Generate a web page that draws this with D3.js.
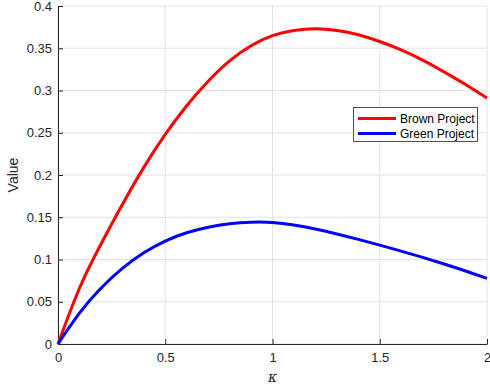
<!DOCTYPE html>
<html><head><meta charset="utf-8">
<script src="https://cdn.jsdelivr.net/npm/d3@7"></script>
<style>body{margin:0;background:#fff}svg{display:block}text{font-family:"Liberation Sans",Arial,sans-serif}</style>
</head><body><svg id="c" width="490" height="389"></svg>
<script>
const kappa = [0,0.1,0.2,0.3,0.4,0.5,0.6,0.7,0.8,0.9,1.0,1.1,1.2,1.3,1.4,1.5,1.6,1.7,1.8,1.9,2.0];
const brown = [0,0.066,0.118,0.165,0.209,0.248,0.282,0.311,0.335,0.353,0.365,0.371,0.373,0.371,0.366,0.358,0.348,0.336,0.322,0.307,0.291];
const green = [0,0.0365,0.066,0.0895,0.108,0.1218,0.1316,0.1382,0.1423,0.1441,0.1438,0.1408,0.136,0.1302,0.1238,0.117,0.1099,0.1025,0.0947,0.0864,0.0776];
const xTicks = [0,0.5,1,1.5,2];
const yTicks = [0,0.05,0.1,0.15,0.2,0.25,0.3,0.35,0.4];
const seriesNames = ["Brown Project","Green Project"];
const seriesColors = ["#ff0000","#0000ff"];

const svg = d3.select("#c");
const L=58,R=487,T=6,B=344;
const x = d3.scaleLinear().domain([0,2]).range([L,R]);
const y = d3.scaleLinear().domain([0,0.4]).range([B,T]);
const axisCol="#262626";

// grid
svg.append("g").selectAll("line").data(xTicks).join("line")
  .attr("x1",d=>x(d)).attr("x2",d=>x(d)).attr("y1",T).attr("y2",B)
  .attr("stroke","#e3e3e3").attr("stroke-width",1);
svg.append("g").selectAll("line").data(yTicks).join("line")
  .attr("y1",d=>y(d)).attr("y2",d=>y(d)).attr("x1",L).attr("x2",R)
  .attr("stroke","#e3e3e3").attr("stroke-width",1);

// axes
const xAxis = d3.axisBottom(x).tickValues(xTicks).tickFormat(d3.format("")).tickSizeInner(-5).tickSizeOuter(0).tickPadding(9);
const yAxis = d3.axisLeft(y).tickValues(yTicks).tickFormat(d3.format("")).tickSizeInner(-5).tickSizeOuter(0).tickPadding(6);
const gx = svg.append("g").attr("transform",`translate(0,${B})`).call(xAxis);
const gy = svg.append("g").attr("transform",`translate(${L},0)`).call(yAxis);
[gx,gy].forEach(g=>{
  g.select(".domain").attr("stroke",axisCol).attr("stroke-width",1);
  g.selectAll(".tick line").attr("stroke",axisCol);
  g.selectAll(".tick text").attr("fill",axisCol).style("font-size","13px").style("font-family","'Liberation Sans',Arial,sans-serif");
});

// lines
const line = d3.line().x((d,i)=>x(kappa[i])).y(d=>y(d)).curve(d3.curveNatural);
[brown,green].forEach((s,i)=>{
  svg.append("path").datum(s).attr("d",line).attr("fill","none")
    .attr("stroke",seriesColors[i]).attr("stroke-width",3).attr("stroke-linejoin","round");
});

// labels
svg.append("text").attr("x",(L+R)/2).attr("y",382).attr("text-anchor","middle")
  .attr("fill",axisCol).style("font-size","14px").style("font-style","italic").style("font-family","'DejaVu Serif',serif").text("κ");
svg.append("text").attr("transform",`translate(18,${(T+B)/2}) rotate(-90)`).attr("text-anchor","middle")
  .attr("fill",axisCol).style("font-size","14px").text("Value");

// legend
const lg = svg.append("g");
lg.append("rect").attr("x",353.5).attr("y",107.5).attr("width",124).attr("height",34)
  .attr("fill","#fff").attr("stroke",axisCol).attr("stroke-width",0.8);
seriesNames.forEach((n,i)=>{
  const yy = 118.5+i*15;
  lg.append("line").attr("x1",358).attr("x2",396).attr("y1",yy).attr("y2",yy)
    .attr("stroke",seriesColors[i]).attr("stroke-width",3);
  lg.append("text").attr("x",400).attr("y",yy+4.5).attr("fill","#000").style("font-size","12px").text(n);
});
</script></body></html>
